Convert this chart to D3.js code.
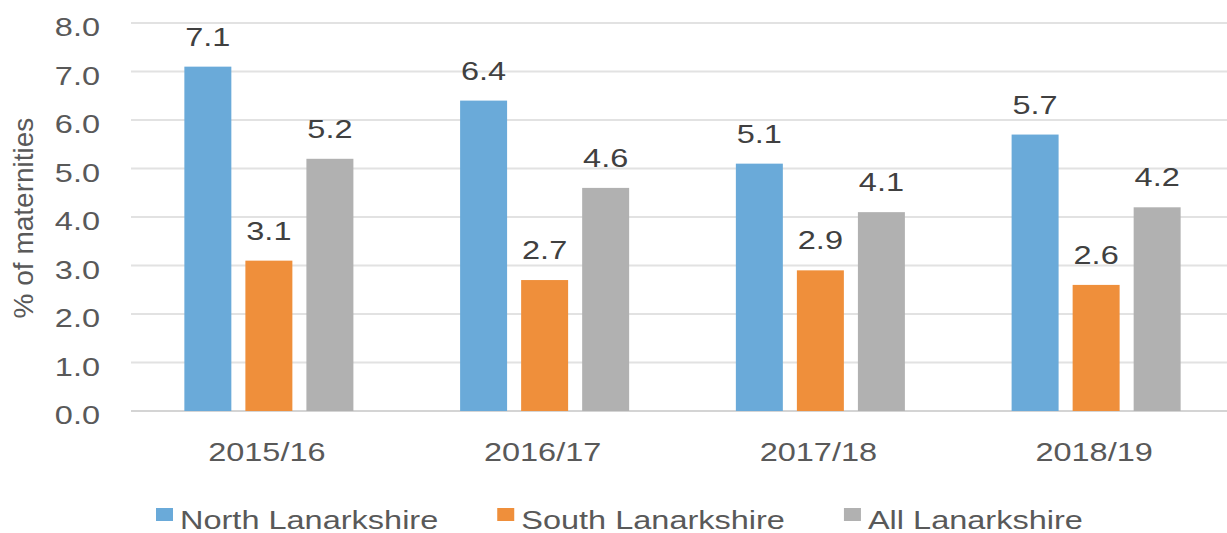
<!DOCTYPE html>
<html>
<head>
<meta charset="utf-8">
<script src="https://cdn.jsdelivr.net/npm/d3@7"></script>
<style>
  body { margin: 0; background: #fff; }
  svg { display: block; font-family: "Liberation Sans", Arial, sans-serif; }
</style>
</head>
<body>
<div id="chart"></div>
<script>
// data
var years = ["2015/16", "2016/17", "2017/18", "2018/19"];
var seriesNames = ["North Lanarkshire", "South Lanarkshire", "All Lanarkshire"];
var northVals = [7.1, 6.4, 5.1, 5.7];
var southVals = [3.1, 2.7, 2.9, 2.6];
var allVals = [5.2, 4.6, 4.1, 4.2];
var yTicks = [0, 1, 2, 3, 4, 5, 6, 7, 8];
var colors = ["#6aaad9", "#ef8f3b", "#b1b1b1"];

var seriesVals = [northVals, southVals, allVals];
var rows = years.map(function (yr, i) {
  return { year: yr, vals: seriesVals.map(function (s, k) { return { key: seriesNames[k], v: s[i] }; }) };
});

var W = 1227, H = 533;
// plot box (note: "top" is taken by window.top, so prefix these)
var plotL = 131, plotR = 1234, plotT = 23, plotB = 411;
var sx = 1.3; // the original is stretched wide, text too
var textCol = "#595959";

var svg = d3.select("#chart").append("svg").attr("width", W).attr("height", H);

var x0 = d3.scaleBand().domain(years).range([plotL, plotR]).paddingInner(0.387).paddingOuter(0.1935);
var x1 = d3.scaleBand().domain(seriesNames).range([0, x0.bandwidth()]).paddingInner(0.23);
var y = d3.scaleLinear().domain([0, 8]).range([plotB, plotT]);
var color = d3.scaleOrdinal().domain(seriesNames).range(colors);

// gridlines
svg.append("g").selectAll("line").data(yTicks).join("line")
  .attr("x1", plotL).attr("x2", W)
  .attr("y1", function (d) { return y(d); }).attr("y2", function (d) { return y(d); })
  .attr("stroke", function (d) { return d === 0 ? "#d4d4d4" : "#e2e2e2"; })
  .attr("stroke-width", 2);

// y tick labels
svg.append("g").selectAll("text").data(yTicks).join("text")
  .attr("transform", function (d) { return "translate(100," + (y(d) + 13) + ") scale(" + sx + ",1)"; })
  .attr("text-anchor", "end")
  .attr("font-size", 25)
  .attr("fill", textCol)
  .text(function (d) { return d.toFixed(1); });

// y title
svg.append("text")
  .attr("transform", "translate(33," + 218 + ") rotate(-90)")
  .attr("text-anchor", "middle")
  .attr("font-size", 28)
  .attr("fill", textCol)
  .text("% of maternities");

// bars
var groups = svg.append("g").selectAll("g").data(rows).join("g")
  .attr("transform", function (d) { return "translate(" + x0(d.year) + ",0)"; });

groups.selectAll("rect").data(function (d) { return d.vals; }).join("rect")
  .attr("x", function (d) { return x1(d.key); })
  .attr("y", function (d) { return y(d.v); })
  .attr("width", x1.bandwidth())
  .attr("height", function (d) { return y(0) - y(d.v); })
  .attr("fill", function (d) { return color(d.key); });

groups.selectAll("text").data(function (d) { return d.vals; }).join("text")
  .attr("transform", function (d) {
    return "translate(" + (x1(d.key) + x1.bandwidth() / 2) + "," + (y(d.v) - 21) + ") scale(" + sx + ",1)";
  })
  .attr("text-anchor", "middle")
  .attr("font-size", 25)
  .attr("fill", "#404040")
  .text(function (d) { return d.v.toFixed(1); });

// x labels
svg.append("g").selectAll("text").data(years).join("text")
  .attr("transform", function (d) { return "translate(" + (x0(d) + x0.bandwidth() / 2 - 2) + ",461) scale(" + sx + ",1)"; })
  .attr("text-anchor", "middle")
  .attr("font-size", 25)
  .attr("fill", textCol)
  .text(function (d) { return d; });

// legend
var lg = svg.append("g");
var lx = 156;
seriesNames.forEach(function (name) {
  lg.append("rect")
    .attr("x", lx).attr("y", 508).attr("width", 17).attr("height", 13)
    .attr("fill", color(name));
  var t = lg.append("text")
    .attr("transform", "translate(" + (lx + 24) + ",529) scale(" + sx + ",1)")
    .attr("font-size", 25)
    .attr("fill", textCol)
    .text(name);
  lx += 24 + t.node().getComputedTextLength() * sx + 59;
});
</script>
</body>
</html>
